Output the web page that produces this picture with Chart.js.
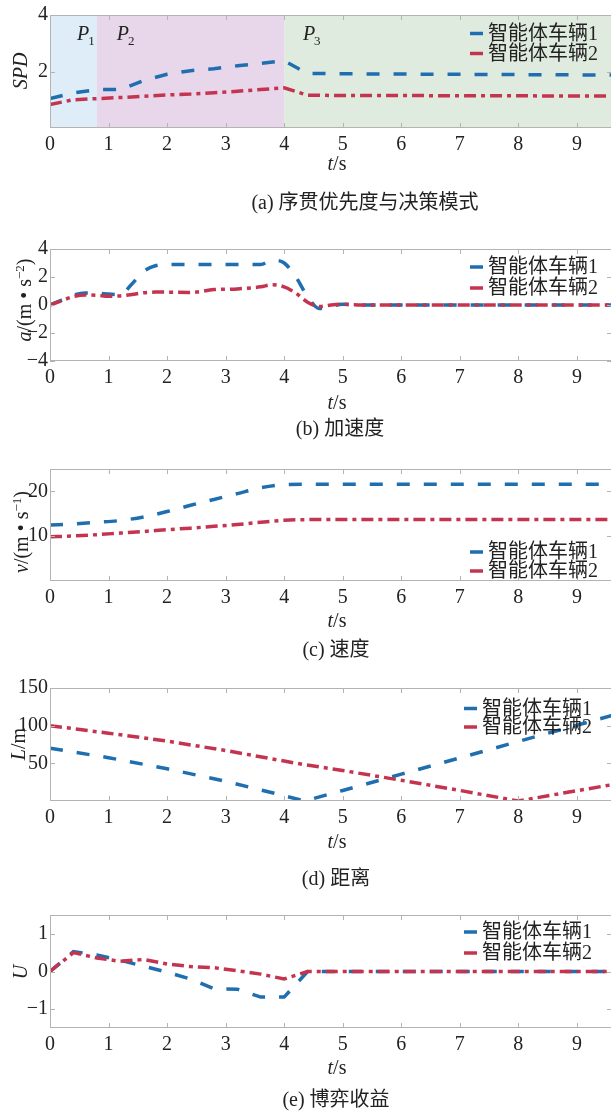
<!DOCTYPE html>
<html><head><meta charset="utf-8">
<script src="https://cdn.jsdelivr.net/npm/chart.js@4.4.1/dist/chart.umd.min.js"></script>
<style>
html,body{margin:0;padding:0;background:#fff;}
body{width:611px;height:1112px;position:relative;overflow:hidden;font-family:"Liberation Serif","Noto Sans CJK SC",serif;color:#222;}
canvas{position:absolute;left:0;}
.lbl{position:absolute;transform:translate(-50%,-50%);white-space:nowrap;font-size:20px;line-height:24px;}
.rot{transform:translate(-50%,-50%) rotate(-90deg);}
sup{font-size:13px;line-height:0;vertical-align:7px;}
.cj{font-family:"Noto Sans CJK SC",sans-serif;}
</style>
</head><body>
<canvas id="cA" width="620" height="157" style="top:1px"></canvas>
<canvas id="cB" width="620" height="156" style="top:235px"></canvas>
<canvas id="cC" width="620" height="156" style="top:455px"></canvas>
<canvas id="cD" width="620" height="157" style="top:674px"></canvas>
<canvas id="cE" width="620" height="157" style="top:901px"></canvas>

<div class="lbl rot" style="left:20px;top:71px"><i>SPD</i></div>
<div class="lbl" style="left:337px;top:163px"><i>t</i>/s</div>
<div class="lbl" style="left:365px;top:201px">(a) <span class="cj">序贯优先度与决策模式</span></div>

<div class="lbl rot" style="left:24px;top:300px"><i>a</i>/(m • s<sup>−2</sup>)</div>
<div class="lbl" style="left:337px;top:402px"><i>t</i>/s</div>
<div class="lbl" style="left:340px;top:427px">(b) <span class="cj">加速度</span></div>

<div class="lbl rot" style="left:21px;top:532px"><i>v</i>/(m • s<sup>−1</sup>)</div>
<div class="lbl" style="left:337px;top:620px"><i>t</i>/s</div>
<div class="lbl" style="left:336px;top:648px">(c) <span class="cj">速度</span></div>

<div class="lbl rot" style="left:18px;top:744px"><i>L</i>/m</div>
<div class="lbl" style="left:337px;top:841px"><i>t</i>/s</div>
<div class="lbl" style="left:336px;top:877px">(d) <span class="cj">距离</span></div>

<div class="lbl rot" style="left:20px;top:972px"><i>U</i></div>
<div class="lbl" style="left:337px;top:1067px"><i>t</i>/s</div>
<div class="lbl" style="left:336px;top:1098px">(e) <span class="cj">博弈收益</span></div>

<script>
// ---------- data ----------
const seriesNames = ['智能体车辆1', '智能体车辆2'];
const xTicks = [0, 1, 2, 3, 4, 5, 6, 7, 8, 9];

// (a) sequential priority SPD
const tA = [0, 0.4, 0.8, 1.2, 1.6, 2.0, 2.4, 2.8, 3.2, 3.6, 4.0, 4.4, 5, 6, 7, 8, 9, 9.6];
const spd1 = [1.04, 1.24, 1.36, 1.36, 1.68, 1.9, 2.03, 2.1, 2.2, 2.29, 2.38, 1.93, 1.92, 1.91, 1.9, 1.89, 1.88, 1.88];
const spd2 = [0.83, 1.0, 1.04, 1.08, 1.12, 1.17, 1.2, 1.25, 1.3, 1.36, 1.42, 1.16, 1.15, 1.15, 1.14, 1.14, 1.13, 1.13];
const yTicksA = [2, 4];
const phaseEdges = [0, 0.8, 4.0, 9.6];
const phaseSubs = ['1', '2', '3'];
const phaseLabelT = [0.46, 1.14, 4.32];

// (b) acceleration
const tB = [0, 0.2, 0.4, 0.6, 0.8, 1.0, 1.2, 1.4, 1.6, 1.8, 2.0, 2.4, 2.8, 3.2, 3.6, 3.8, 4.0, 4.2, 4.4, 4.6, 4.8, 5.0, 5.4, 6, 7, 8, 9, 9.6];
const acc1 = [0, 0.35, 0.7, 0.85, 0.85, 0.78, 0.75, 1.5, 2.4, 2.8, 2.9, 2.9, 2.9, 2.9, 2.9, 3.2, 3.0, 2.0, 0.6, -0.25, -0.1, 0.05, 0, 0, 0, 0, 0, 0];
const acc2 = [0, 0.3, 0.6, 0.72, 0.7, 0.63, 0.65, 0.75, 0.88, 0.92, 0.92, 0.9, 1.1, 1.15, 1.3, 1.45, 1.3, 0.85, 0.2, -0.1, 0, 0.05, 0, 0, 0, 0, 0, 0];
const yTicksB = [-4, -2, 0, 2, 4];

// (c) velocity
const tC = [0, 0.4, 0.8, 1.2, 1.6, 2.0, 2.4, 2.8, 3.2, 3.6, 4.0, 4.4, 5, 6, 7, 8, 9, 9.6];
const vel1 = [12.5, 12.75, 13.1, 13.5, 14.3, 15.5, 16.9, 18.2, 19.5, 20.8, 21.5, 21.6, 21.6, 21.6, 21.6, 21.6, 21.6, 21.6];
const vel2 = [9.85, 10.05, 10.35, 10.7, 11.05, 11.45, 11.8, 12.2, 12.6, 13.1, 13.55, 13.7, 13.7, 13.7, 13.7, 13.7, 13.7, 13.7];
const yTicksC = [10, 20];

// (d) distance
const tD = [0, 1, 2, 3, 4, 4.35, 5, 6, 7, 8, 9, 9.6];
const dist1 = [70, 57.5, 42.8, 26.2, 7, 0, 14, 35.6, 57.2, 79, 100.6, 113.5];
const dist2 = [100, 90, 79.5, 67, 53, 48.2, 40.5, 27.5, 14, 0, 13.7, 21.6];
const yTicksD = [50, 100, 150];

// (e) game payoff
const tE = [0, 0.4, 0.8, 1.2, 1.6, 2.0, 2.4, 2.8, 3.2, 3.6, 4.0, 4.4, 5, 6, 7, 8, 9, 9.6];
const pay1 = [0, 0.53, 0.44, 0.3, 0.14, -0.02, -0.2, -0.46, -0.47, -0.68, -0.68, 0, 0, 0, 0, 0, 0, 0];
const pay2 = [0, 0.5, 0.36, 0.27, 0.32, 0.2, 0.13, 0.1, 0.02, -0.07, -0.2, 0, 0, 0, 0, 0, 0, 0];
const yTicksE = [-1, 0, 1];

// ---------- styles ----------
const BLUE = '#1f6eb0';
const RED = '#c4344f';
const BANDS = ['#deedf7', '#e8d7ea', '#e0ebdf'];
const AXIS = '#b3b3b3';
const TXT = '#222';
const FONT = '"Liberation Serif", "Times New Roman", "Noto Sans CJK SC", serif';

const deco = {
  id: 'deco',
  beforeDatasetsDraw(chart, args, o) {
    const {ctx, chartArea: a, scales: {x}} = chart;
    if (o.bands) {
      ctx.save();
      for (let i = 0; i < o.bands.edges.length - 1; i++) {
        const x0 = x.getPixelForValue(o.bands.edges[i]);
        const x1 = x.getPixelForValue(o.bands.edges[i + 1]);
        ctx.fillStyle = BANDS[i];
        ctx.fillRect(x0, a.top, x1 - x0, a.bottom - a.top);
      }
      ctx.restore();
    }
  },
  afterDatasetsDraw(chart, args, o) {
    const {ctx, chartArea: a, scales: {x, y}} = chart;
    ctx.save();
    ctx.setLineDash([]);
    ctx.strokeStyle = AXIS;
    ctx.lineWidth = 1;
    ctx.strokeRect(Math.round(a.left) + 0.5, Math.round(a.top) + 0.5, Math.round(a.right - a.left), Math.round(a.bottom - a.top) - 1);
    ctx.beginPath();
    x.ticks.forEach(t => {
      const px = Math.round(x.getPixelForValue(t.value)) + 0.5;
      ctx.moveTo(px, a.top); ctx.lineTo(px, a.top + 5);
      ctx.moveTo(px, a.bottom); ctx.lineTo(px, a.bottom - 5);
    });
    y.ticks.forEach(t => {
      const py = Math.round(y.getPixelForValue(t.value)) + 0.5;
      ctx.moveTo(a.left, py); ctx.lineTo(a.left + 5, py);
      ctx.moveTo(a.right, py); ctx.lineTo(a.right - 5, py);
    });
    ctx.stroke();
    // phase labels
    if (o.bands) {
      ctx.fillStyle = TXT;
      ctx.textBaseline = 'alphabetic';
      o.bands.labelT.forEach((tv, i) => {
        const px = x.getPixelForValue(tv);
        ctx.font = 'italic 20px "Liberation Serif"';
        ctx.fillText('P', px, a.top + 25);
        const w = ctx.measureText('P').width;
        ctx.font = '13px "Liberation Serif"';
        ctx.fillText(o.bands.subs[i], px + w - 1, a.top + 30);
      });
    }
    // legend
    const lg = o.legend;
    ctx.font = '20px ' + FONT;
    ctx.textBaseline = 'middle';
    chart.data.datasets.forEach((ds, i) => {
      const yy = a.top + lg.rows[i];
      ctx.strokeStyle = ds.borderColor;
      ctx.lineWidth = 3.5;
      ctx.beginPath();
      ctx.moveTo(lg.x, yy); ctx.lineTo(lg.x + 13, yy);
      ctx.stroke();
      ctx.fillStyle = TXT;
      ctx.fillText(ds.label, lg.x + 18, yy + 1);
    });
    ctx.restore();
  }
};

function build(id, t, s1, s2, yMin, yMax, yTicks, smooth, decoOpts) {
  const mk = (arr) => t.map((v, i) => ({x: v, y: arr[i]}));
  return new Chart(document.getElementById(id), {
    type: 'line',
    data: {datasets: [
      {label: seriesNames[0], data: mk(s1), borderColor: BLUE, borderWidth: 3.5, borderDash: [13, 14],
       pointRadius: 0, order: 2, fill: false, cubicInterpolationMode: smooth ? 'monotone' : 'default', tension: 0},
      {label: seriesNames[1], data: mk(s2), borderColor: RED, borderWidth: 3.5, borderDash: [12, 5, 4, 5],
       pointRadius: 0, order: 1, fill: false, cubicInterpolationMode: smooth ? 'monotone' : 'default', tension: 0}
    ]},
    options: {
      responsive: false, animation: false, events: [],
      layout: {padding: {top: 12, right: 8, left: 0, bottom: 0}},
      plugins: {legend: {display: false}, tooltip: {enabled: false}, deco: decoOpts},
      scales: {
        x: {type: 'linear', min: 0, max: 9.6,
            afterBuildTicks: s => { s.ticks = xTicks.map(v => ({value: v})); },
            afterFit: s => { s.height = 30; },
            grid: {display: false, drawTicks: false}, border: {display: false},
            ticks: {font: {family: FONT, size: 20}, color: TXT, padding: 5, maxRotation: 0, autoSkip: false}},
        y: {type: 'linear', min: yMin, max: yMax,
            afterBuildTicks: s => { s.ticks = yTicks.map(v => ({value: v})); },
            afterFit: s => { s.width = 50; },
            grid: {display: false, drawTicks: false}, border: {display: false},
            ticks: {font: {family: FONT, size: 20}, color: TXT, padding: 2, autoSkip: false,
                    callback: v => String(v).replace('-', '−')}}
      }
    },
    plugins: [deco]
  });
}

build('cA', tA, spd1, spd2, 0, 4, yTicksA, false,
      {bands: {edges: phaseEdges, subs: phaseSubs, labelT: phaseLabelT}, legend: {x: 470, rows: [18.5, 38.5]}});
build('cB', tB, acc1, acc2, -4, 4, yTicksB, true, {legend: {x: 470, rows: [18, 39]}});
build('cC', tC, vel1, vel2, 0, 25, yTicksC, true, {legend: {x: 470, rows: [83, 102]}});
build('cD', tD, dist1, dist2, 0, 150, yTicksD, false, {legend: {x: 464, rows: [20.5, 39]}});
build('cE', tE, pay1, pay2, -1.5, 1.5, yTicksE, false, {legend: {x: 464, rows: [17, 38]}});
</script>
</body></html>
